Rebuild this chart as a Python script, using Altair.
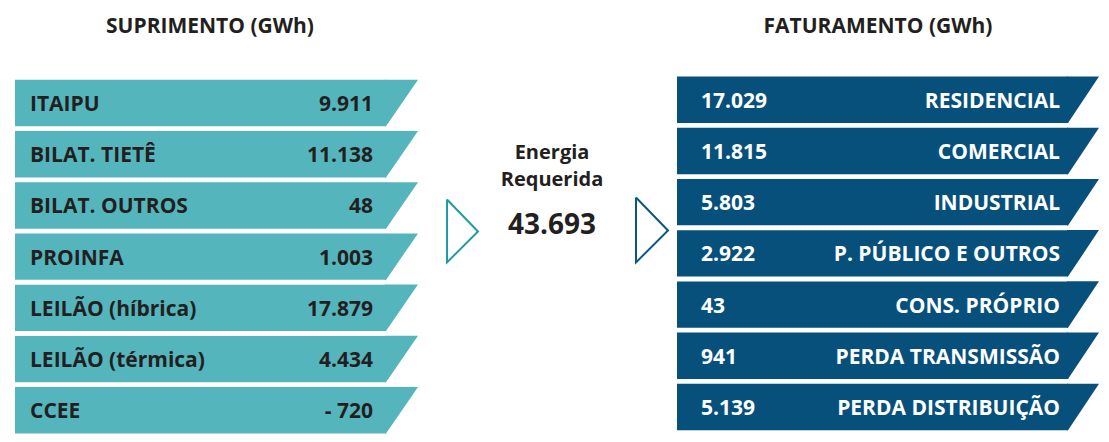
import altair as alt
import pandas as pd

# ---- data ----
sup_labels = ["ITAIPU", "BILAT. TIETÊ", "BILAT. OUTROS", "PROINFA",
              "LEILÃO (híbrica)", "LEILÃO (térmica)", "CCEE"]
sup_values = [9911, 11138, 48, 1003, 17879, 4434, -720]
fat_labels = ["RESIDENCIAL", "COMERCIAL", "INDUSTRIAL", "P. PÚBLICO E OUTROS",
              "CONS. PRÓPRIO", "PERDA TRANSMISSÃO", "PERDA DISTRIBUIÇÃO"]
fat_values = [17029, 11815, 5803, 2922, 43, 941, 5139]
total_label = ["Energia", "Requerida"]
total_value = 43693
titles = ["SUPRIMENTO (GWh)", "FATURAMENTO (GWh)"]

# ---- styling / layout ----
W, H = 1093, 426
TEAL = "#55b5bd"
NAVY = "#06507b"
TEAL_LINE = "#1f9ba7"
NAVY_LINE = "#0b5784"
TXT = "#231f20"
FONT = "Open Sans"
ROW_H = 46.5


def fmt(v):
    s = f"{abs(v):,}".replace(",", ".")
    return ("- " + s) if v < 0 else s


def panel(labels, values, x0, xr, top0, pitch, h):
    rows = []
    for i, (lab, val) in enumerate(zip(labels, values)):
        top = top0 + i * pitch
        rows.append({"row": i, "label": lab, "value": fmt(val),
                     "x0": x0, "xr": xr, "top": top, "bot": top + h,
                     "yc": top + h / 2})
    return pd.DataFrame(rows)


xs = alt.Scale(domain=[0, W], nice=False, zero=False)
ys = alt.Scale(domain=[0, H], nice=False, zero=False, reverse=True)
X = lambda f: alt.X(f, type="quantitative", scale=xs, axis=None)
Y = lambda f: alt.Y(f, type="quantitative", scale=ys, axis=None)

lt = panel(sup_labels, sup_values, 7, 378, 72, 51.33, ROW_H)
rt = panel(fat_labels, fat_values, 669, 1060, 68.7, 51.33, ROW_H)
lt["xl"], lt["xv"] = 22, 365
rt["xv"], rt["xl"] = 693, 1052

half = ROW_H / 2


def slant_shape(slant):
    k = slant / half
    return f"M-0.04,-1 L{k:.4f},-1 L0,1 L-0.04,1 Z"


layers = []
for d, col, slant in [(lt, TEAL, 32), (rt, NAVY, 31)]:
    layers.append(
        alt.Chart(d).mark_rect(color=col).encode(
            x=X("x0"), x2="xr", y=Y("top"), y2="bot"
        )
    )
    layers.append(
        alt.Chart(d).mark_point(shape=slant_shape(slant), filled=True, fill=col,
                                strokeWidth=0, opacity=1, size=ROW_H ** 2).encode(
            x=X("xr"), y=Y("yc")
        )
    )

tstyle = dict(font=FONT, fontWeight="bold", fontSize=21, baseline="middle", dy=2)
layers.append(alt.Chart(lt).mark_text(align="left", color=TXT, **tstyle).encode(
    x=X("xl"), y=Y("yc"), text="label:N"))
layers.append(alt.Chart(lt).mark_text(align="right", color=TXT, **tstyle).encode(
    x=X("xv"), y=Y("yc"), text="value:N"))
layers.append(alt.Chart(rt).mark_text(align="left", color="white", **tstyle).encode(
    x=X("xv"), y=Y("yc"), text="value:N"))
layers.append(alt.Chart(rt).mark_text(align="right", color="white", **tstyle).encode(
    x=X("xl"), y=Y("yc"), text="label:N"))

# headers
hdr = pd.DataFrame({"t": titles, "x": [202, 870], "y": [19, 19]})
layers.append(alt.Chart(hdr).mark_text(font=FONT, fontWeight="bold", fontSize=21,
                                        color=TXT, baseline="middle", align="center").encode(
    x=X("x"), y=Y("y"), text="t:N"))

# centre text
mid = pd.DataFrame({"t": total_label, "x": [544, 544], "y": [145, 172]})
layers.append(alt.Chart(mid).mark_text(font=FONT, fontWeight="bold", fontSize=20,
                                        color=TXT, baseline="middle", align="center").encode(
    x=X("x"), y=Y("y"), text="t:N"))
tot = pd.DataFrame({"t": [fmt(total_value)], "x": [544], "y": [219]})
layers.append(alt.Chart(tot).mark_text(font=FONT, fontWeight="bold", fontSize=28,
                                        color=TXT, baseline="middle", align="center").encode(
    x=X("x"), y=Y("y"), text="t:N"))


# arrow outlines
def tri(xl, xtip, ytop, ymid, ybot):
    return pd.DataFrame({"x": [xl, xtip, xl, xl], "y": [ytop, ymid, ybot, ytop],
                         "o": [0, 1, 2, 3]})


for d, col in [(tri(439, 470, 192, 224, 255), TEAL_LINE),
               (tri(628, 660, 190, 223, 255), NAVY_LINE)]:
    layers.append(alt.Chart(d).mark_line(color=col, strokeWidth=2, strokeJoin="miter").encode(
        x=X("x"), y=Y("y"), order="o:Q"))

chart = alt.layer(*layers).properties(
    width=W, height=H, padding=0,
    autosize=alt.AutoSizeParams(type="fit", contains="padding"),
).configure_view(stroke=None)

chart.save("out.html", embed_options={"renderer": "svg", "actions": False})
